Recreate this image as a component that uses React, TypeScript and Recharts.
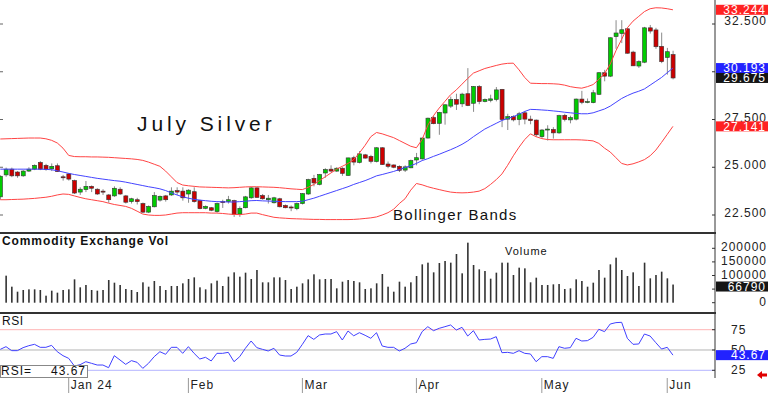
import React from 'react';
import { ComposedChart, Bar, Line, XAxis, YAxis, ReferenceLine } from 'recharts';

const FONT = '"Liberation Sans", Arial, Helvetica, sans-serif';

// ---- data ----
const opens = [23.45,24.6,24.9,24.75,24.55,24.8,24.9,25.25,25.1,24.92,25.08,24.5,24.65,24.3,23.7,23.83,24.0,23.85,23.75,23.55,23.5,23.85,23.5,23.2,23.3,23.1,22.65,22.93,23.28,23.5,23.55,23.78,23.75,23.6,23.72,23.25,22.85,22.88,22.68,23.2,23.2,23.25,22.55,22.88,23.4,23.92,23.52,23.3,23.14,23.35,23.0,22.92,22.83,23.1,23.6,24.42,24.1,24.7,24.9,24.8,24.95,24.57,25.5,25.25,25.65,25.57,25.3,26.02,25.17,25.12,25.05,24.85,24.97,25.38,25.44,26.53,27.6,27.3,27.84,28.2,28.55,28.32,28.85,28.35,29.23,28.44,28.5,28.55,29.08,27.52,27.65,27.5,27.85,27.52,27.47,26.6,26.97,26.98,26.8,27.72,27.48,27.52,28.57,28.42,28.38,28.82,29.95,29.77,31.84,32.0,32.25,31.03,30.3,30.5,32.3,32.19,31.33,30.75,30.9];
const highs = [24.58,24.98,24.98,24.8,24.85,25.0,25.15,25.32,25.18,25.2,25.2,24.6,24.7,24.35,23.95,24.28,24.05,23.9,23.85,23.6,24.0,23.95,23.55,23.4,23.4,23.15,23.0,23.7,23.52,23.55,23.95,23.95,23.95,23.85,23.95,23.3,23.0,22.92,23.15,23.3,23.5,23.3,22.95,23.5,23.97,23.95,23.6,23.55,23.45,23.4,23.05,23.0,23.15,23.65,24.4,24.6,24.65,24.95,25.1,25.0,25.0,25.5,25.6,25.85,25.7,25.65,26.05,26.05,25.3,25.15,25.1,25.1,25.4,25.75,26.55,27.6,27.7,27.9,28.3,28.7,28.85,28.9,30.19,29.25,29.3,28.6,28.8,29.2,29.1,27.8,27.72,27.9,27.95,27.7,27.5,27.0,27.2,27.1,27.75,27.8,27.7,28.6,29.0,28.6,29.05,29.98,30.1,31.8,32.7,32.7,32.3,31.1,30.6,32.35,32.45,32.3,32.05,31.25,31.1];
const lows = [23.3,24.5,24.48,24.45,24.5,24.75,24.85,24.85,24.82,24.8,24.75,24.3,24.3,23.6,23.55,23.7,23.7,23.55,23.55,23.14,23.45,23.55,23.1,23.1,23.05,22.6,22.6,22.9,23.2,23.2,23.5,23.55,23.25,23.14,23.15,22.8,22.8,22.7,22.62,22.87,23.1,22.4,22.4,22.85,23.35,23.4,23.3,23.1,23.1,22.9,22.85,22.7,22.75,23.05,23.55,24.0,24.05,24.45,24.75,24.75,24.55,24.55,25.1,25.2,25.45,25.2,25.25,25.12,24.95,24.95,24.75,24.75,24.95,25.1,25.4,26.5,27.25,26.7,27.23,28.1,28.0,28.15,28.2,27.9,28.3,28.4,28.4,28.45,27.1,26.95,27.4,27.2,27.25,27.25,26.6,26.5,26.4,26.5,26.75,27.4,27.3,27.45,28.3,28.35,28.35,28.78,29.5,29.72,31.2,31.5,30.95,30.3,30.2,30.45,32.0,31.2,30.45,29.85,29.6];
const closes = [24.53,24.9,24.55,24.55,24.8,24.9,25.1,24.9,24.88,25.05,24.77,24.45,24.38,23.65,23.85,24.0,23.9,23.6,23.7,23.3,23.9,23.6,23.17,23.35,23.2,22.65,22.95,23.52,23.48,23.3,23.75,23.7,23.4,23.8,23.2,22.83,22.95,22.75,23.1,23.15,23.3,22.53,22.85,23.45,23.92,23.42,23.35,23.38,23.4,22.93,22.88,22.9,23.1,23.62,24.35,24.18,24.62,24.88,24.8,24.95,24.68,25.49,25.27,25.7,25.48,25.31,26.02,25.14,25.05,25.0,24.84,25.02,25.35,25.5,26.53,27.57,27.28,27.87,28.27,28.55,28.3,28.83,28.23,29.23,28.44,28.55,28.58,29.05,27.5,27.65,27.48,27.8,27.52,27.44,26.7,26.95,27.0,26.8,27.7,27.5,27.6,28.57,28.4,28.44,28.9,29.95,29.77,31.78,32.03,32.2,30.97,30.31,30.53,32.3,32.13,31.31,30.53,31.05,29.675];
const upperBand = [26.48,26.49,26.5,26.51,26.52,26.53,26.53,26.53,26.49,26.41,26.27,26.0,25.62,25.56,25.55,25.55,25.54,25.54,25.53,25.52,25.5,25.48,25.46,25.44,25.41,25.36,25.27,25.16,25.05,24.8,24.5,24.2,24.07,24.03,24.0,23.97,23.96,23.95,23.94,23.93,23.92,23.93,23.95,23.97,23.98,23.98,23.97,23.96,23.95,23.93,23.9,23.87,23.85,23.83,23.95,24.1,24.3,24.5,24.7,24.9,25.05,25.2,25.4,25.75,26.15,26.6,26.82,26.75,26.65,26.55,26.4,26.25,26.1,26.02,26.45,27.2,27.7,28.1,28.45,28.8,29.05,29.35,29.65,29.93,30.05,30.17,30.25,30.33,30.4,30.44,30.45,30.1,29.7,29.4,29.39,29.38,29.38,29.37,29.35,29.3,29.22,29.17,29.14,29.22,29.33,29.6,29.9,30.4,31.1,31.7,32.3,32.65,32.9,33.15,33.3,33.35,33.34,33.3,33.244];
const middleBand = [24.9,24.9,24.9,24.9,24.9,24.9,24.9,24.9,24.89,24.87,24.82,24.75,24.68,24.62,24.57,24.52,24.47,24.42,24.38,24.34,24.3,24.27,24.22,24.16,24.1,24.04,23.98,23.93,23.87,23.78,23.66,23.55,23.45,23.38,23.32,23.28,23.25,23.22,23.2,23.19,23.18,23.18,23.2,23.22,23.25,23.26,23.24,23.23,23.22,23.21,23.2,23.2,23.2,23.22,23.3,23.38,23.48,23.58,23.68,23.78,23.88,23.98,24.1,24.2,24.3,24.42,24.55,24.62,24.7,24.78,24.88,24.98,25.08,25.2,25.35,25.45,25.57,25.68,25.8,25.92,26.05,26.2,26.38,26.6,26.8,27.0,27.15,27.3,27.45,27.55,27.65,27.78,27.92,28.03,28.02,28.0,27.98,27.95,27.92,27.88,27.85,27.82,27.8,27.8,27.85,27.95,28.05,28.2,28.4,28.6,28.75,28.88,28.98,29.1,29.3,29.5,29.7,29.95,30.193];
const lowerBand = [23.3,23.3,23.31,23.32,23.33,23.35,23.37,23.4,23.43,23.48,23.55,23.6,23.58,23.5,23.42,23.35,23.3,23.25,23.2,23.12,23.05,23.0,22.95,22.85,22.7,22.55,22.5,22.48,22.48,22.5,22.55,22.6,22.62,22.62,22.62,22.62,22.62,22.6,22.6,22.58,22.55,22.53,22.52,22.55,22.6,22.6,22.52,22.45,22.38,22.35,22.33,22.31,22.3,22.29,22.28,22.27,22.27,22.26,22.26,22.26,22.26,22.26,22.27,22.29,22.32,22.35,22.4,22.5,22.62,22.8,23.1,23.35,23.8,24.15,24.08,23.98,23.9,23.83,23.76,23.7,23.67,23.66,23.67,23.7,23.75,23.88,24.1,24.35,24.65,25.1,25.6,26.05,26.45,26.75,26.6,26.5,26.45,26.44,26.44,26.44,26.44,26.44,26.43,26.41,26.38,26.25,26.0,25.8,25.5,25.2,25.12,25.18,25.28,25.4,25.6,25.9,26.3,26.72,27.141];
const volumes = [null,99400,58900,40500,46700,49100,49100,46700,25800,44200,36900,46700,49100,85900,56500,65100,46700,44200,46700,83400,73600,65100,50400,46700,39300,74900,58900,79800,61400,46700,61400,61400,71200,87100,93200,56500,49100,71200,81000,61400,95700,111600,95700,110400,87100,120200,74900,74900,93200,93200,83400,50400,58900,71200,85900,104300,85900,87100,87100,52800,77300,83400,79800,74900,50400,52800,71200,105500,58900,40500,77300,58900,74900,98100,141000,147200,111600,145900,153300,147200,179000,108000,220700,138600,122700,116500,88300,110400,147200,147200,101800,128800,126300,74900,92000,65100,65100,67500,68700,50400,52800,85900,79800,58900,73600,120200,92000,141000,165500,120200,98100,111600,61400,147200,89600,101800,114100,89600,66790];
const rsiValues = [50.8,54.1,49.2,49.2,52.9,55.3,57.0,53.3,53.3,55.7,47.9,43.0,39.7,30.3,31.9,35.6,33.6,31.5,31.5,28.2,43.0,37.7,32.3,36.9,34.8,27.4,33.6,41.8,47.9,44.7,53.3,53.3,45.9,54.1,45.9,38.9,41.0,36.5,45.9,45.9,47.1,35.6,41.8,52.1,61.1,52.9,50.8,48.8,52.1,43.8,42.6,42.6,47.1,57.0,67.7,63.1,68.5,69.7,69.7,72.6,62.3,73.4,67.5,71.3,68.1,64.4,71.3,54.9,53.3,53.3,48.8,52.1,57.4,59.0,72.6,78.7,73.8,76.7,78.7,80.8,74.6,77.9,67.2,73.8,62.3,63.1,63.5,66.4,46.7,47.1,45.9,49.2,45.9,45.1,35.6,41.8,41.8,39.7,54.1,52.1,52.9,64.4,61.1,61.5,65.6,75.5,72.6,82.0,83.7,84.1,64.4,57.0,57.4,69.7,67.2,59.0,51.2,53.3,43.67];

const monthTickIndex = [12, 33, 53, 73, 95, 117];
const monthTickLabels = ['Jan 24', 'Feb', 'Mar', 'Apr', 'May', 'Jun'];
const priceTicks = [22.5, 25, 27.5, 30, 32.5];
const priceHiddenLabels = [30];
const volumeTicks = [0, 50000, 100000, 150000, 200000];
const volumeHiddenLabels = [50000];
const rsiTicks = [25, 50, 75];

const data = opens.map((open, i) => ({
  i,
  open,
  high: highs[i],
  low: lows[i],
  close: closes[i],
  range: [lows[i], highs[i]],
  upper: upperBand[i],
  middle: middleBand[i],
  lower: lowerBand[i],
  vol: volumes[i],
  rsi: rsiValues[i],
}));

const last = opens.length - 1;
const X_DOMAIN: [number, number] = [-0.05, 125.38];

const priceTags = [
  { value: upperBand[last], color: '#ff2222', text: upperBand[last].toFixed(3) },
  { value: middleBand[last], color: '#2222ff', text: middleBand[last].toFixed(3) },
  { value: closes[last], color: '#151515', text: closes[last].toFixed(3) },
  { value: lowerBand[last], color: '#ff2222', text: lowerBand[last].toFixed(3) },
];
const volumeTags = [{ value: volumes[last] as number, color: '#151515', text: String(volumes[last]) }];
const rsiTags = [{ value: rsiValues[last], color: '#2222ff', text: rsiValues[last].toFixed(2) }];

const Candle = (props: any) => {
  const { x, y, width, height, payload } = props;
  if (!payload || height == null) return null;
  const { open, close, high, low } = payload;
  const top = Math.min(y, y + height);
  const h = Math.abs(height);
  const ratio = high > low ? h / (high - low) : 0;
  const yO = top + (high - open) * ratio;
  const yC = top + (high - close) * ratio;
  const cx = x + width / 2;
  const up = close >= open;
  const bTop = Math.min(yO, yC);
  const bH = Math.max(1, Math.abs(yC - yO));
  return (
    <g>
      <line x1={cx} x2={cx} y1={top} y2={top + h} stroke="#8a8a8a" strokeWidth={1} />
      <rect x={x} y={bTop} width={width} height={bH} fill={up ? '#00cc00' : '#cc0000'} stroke="#333" strokeWidth={0.6} />
    </g>
  );
};

const VolBar = (props: any) => {
  const { x, y, width, height } = props;
  if (!height || height <= 0) return null;
  const cx = x + width / 2;
  return <rect x={cx - 0.8} y={y} width={1.6} height={height} fill="#333" />;
};

const makeTick = (
  tags: { value: number; color: string; text: string }[],
  hidden: number[],
  fmt: (v: number) => string,
  labelX: number,
  anchor: 'start' | 'end',
  offsetOf: (v: number) => number,
  tagShift: number,
  leftTicks: boolean,
) => (props: any) => {
  const { y, payload } = props;
  const v = payload.value;
  const tag = tags.find((t) => t.value === v);
  if (tag) {
    const cy = y + tagShift;
    return (
      <g>
        <rect x={716} y={cy - 5} width={52} height={10} fill={tag.color} />
        <text x={766} y={cy + 4.2} textAnchor="end" fill="#fff" fontSize={12} letterSpacing={1} fontFamily={FONT}>
          {tag.text}
        </text>
      </g>
    );
  }
  return (
    <g>
      <line x1={712} x2={715} y1={y} y2={y} stroke="#333" />
      {leftTicks ? <line x1={0} x2={3} y1={y} y2={y} stroke="#666" /> : null}
      {hidden.includes(v) ? null : (
        <text x={labelX} y={y + 4 + offsetOf(v)} textAnchor={anchor} fill="#222" fontSize={12} letterSpacing={1} fontFamily={FONT}>
          {fmt(v)}
        </text>
      )}
    </g>
  );
};

const PriceTick = makeTick(priceTags, priceHiddenLabels, (v) => v.toFixed(3), 767, 'end', (v) => (v === 32.5 ? -3 : -2), 0, true);
const VolTick = makeTick(volumeTags, volumeHiddenLabels, (v) => String(v), 767, 'end', () => -1, 2, false);
const RsiTick = makeTick(rsiTags, [], (v) => String(v), 731, 'start', () => 0, 0, false);

const MonthTick = (props: any) => {
  const { x, payload } = props;
  const k = monthTickIndex.indexOf(payload.value);
  return (
    <g>
      <line x1={x} x2={x} y1={64} y2={79} stroke="#999" />
      <text x={x + 2} y={75} fill="#222" fontSize={12} letterSpacing={1} fontFamily={FONT}>
        {monthTickLabels[k]}
      </text>
    </g>
  );
};

export default function App() {
  return (
    <div style={{ position: 'absolute', left: 0, top: 0, width: 768, height: 393, background: '#fff', fontFamily: FONT }}>
      {/* price panel */}
      <div style={{ position: 'absolute', left: 0, top: 0 }}>
        <ComposedChart width={768} height={232} data={data} margin={{ top: 0, right: 0, bottom: 0, left: 0 }}>
          <XAxis type="number" dataKey="i" domain={X_DOMAIN} hide />
          <YAxis
            orientation="right"
            width={53}
            type="number"
            domain={[21.61, 33.757]}
            allowDataOverflow
            ticks={[...priceTicks, ...priceTags.map((t) => t.value)]}
            interval={0}
            tickLine={false}
            axisLine={{ stroke: '#333' }}
            tick={PriceTick}
          />
          <Line dataKey="upper" type="linear" stroke="#ff4444" strokeWidth={1} dot={false} activeDot={false} isAnimationActive={false} />
          <Line dataKey="lower" type="linear" stroke="#ff4444" strokeWidth={1} dot={false} activeDot={false} isAnimationActive={false} />
          <Line dataKey="middle" type="linear" stroke="#4444ff" strokeWidth={1} dot={false} activeDot={false} isAnimationActive={false} />
          <Bar dataKey="range" barSize={4} shape={Candle} isAnimationActive={false} />
        </ComposedChart>
      </div>
      {/* volume panel */}
      <div style={{ position: 'absolute', left: 0, top: 234 }}>
        <ComposedChart width={768} height={78} data={data} margin={{ top: 0, right: 0, bottom: 0, left: 0 }}>
          <XAxis type="number" dataKey="i" domain={X_DOMAIN} hide />
          <YAxis
            orientation="right"
            width={53}
            type="number"
            domain={[-34191, 252574]}
            allowDataOverflow
            ticks={[...volumeTicks, ...volumeTags.map((t) => t.value)]}
            interval={0}
            tickLine={false}
            axisLine={{ stroke: '#333' }}
            tick={VolTick}
          />
          <Bar dataKey="vol" barSize={2} shape={VolBar} isAnimationActive={false} />
        </ComposedChart>
      </div>
      {/* RSI panel */}
      <div style={{ position: 'absolute', left: 0, top: 314 }}>
        <ComposedChart width={768} height={79} data={data} margin={{ top: 0, right: 0, bottom: 0, left: 0 }}>
          <XAxis
            type="number"
            dataKey="i"
            domain={X_DOMAIN}
            height={15}
            ticks={monthTickIndex}
            interval={0}
            axisLine={false}
            tickLine={false}
            tick={MonthTick}
          />
          <YAxis
            orientation="right"
            width={53}
            type="number"
            domain={[15.52, 94.33]}
            allowDataOverflow
            ticks={[...rsiTicks, ...rsiTags.map((t) => t.value)]}
            interval={0}
            tickLine={false}
            axisLine={{ stroke: '#333' }}
            tick={RsiTick}
          />
          <ReferenceLine y={75} stroke="#ffb4b4" strokeWidth={1} />
          <ReferenceLine y={50} stroke="#b4b4b4" strokeWidth={1} />
          <ReferenceLine y={25} stroke="#b4b4ff" strokeWidth={1} />
          <Line dataKey="rsi" type="linear" stroke="#4040ff" strokeWidth={1} dot={false} activeDot={false} isAnimationActive={false} />
        </ComposedChart>
      </div>
      {/* annotations */}
      <svg width={768} height={393} style={{ position: 'absolute', left: 0, top: 0, pointerEvents: 'none' }}>
        <rect x={0} y={232} width={716} height={2} fill="#333" />
        <rect x={0} y={312} width={716} height={2} fill="#333" />
        <text x={137} y={131} fontSize={21} letterSpacing={3.9} fill="#111" fontFamily={FONT}>July Silver</text>
        <text x={393} y={220} fontSize={15} letterSpacing={1.3} fill="#111" fontFamily={FONT}>Bollinger Bands</text>
        <text x={2} y={245} fontSize={12} fontWeight="bold" letterSpacing={0.9} fill="#111" fontFamily={FONT}>Commodity Exchange Vol</text>
        <text x={505} y={255} fontSize={11} letterSpacing={1} fill="#111" fontFamily={FONT}>Volume</text>
        <text x={2} y={325} fontSize={12} letterSpacing={0.5} fill="#111" fontFamily={FONT}>RSI</text>
        <rect x={0.5} y={365.5} width={87} height={12} fill="#fff" stroke="#888" />
        <text x={1} y={375} fontSize={12} letterSpacing={1} fill="#111" fontFamily={FONT}>RSI=</text>
        <text x={86} y={375} textAnchor="end" fontSize={12} letterSpacing={1} fill="#111" fontFamily={FONT}>{rsiValues[last].toFixed(2)}</text>
        <polygon points="757,375 762,371 762,373.5 767,373.5 767,376.5 762,376.5 762,379" fill="#e00000" />
      </svg>
    </div>
  );
}
